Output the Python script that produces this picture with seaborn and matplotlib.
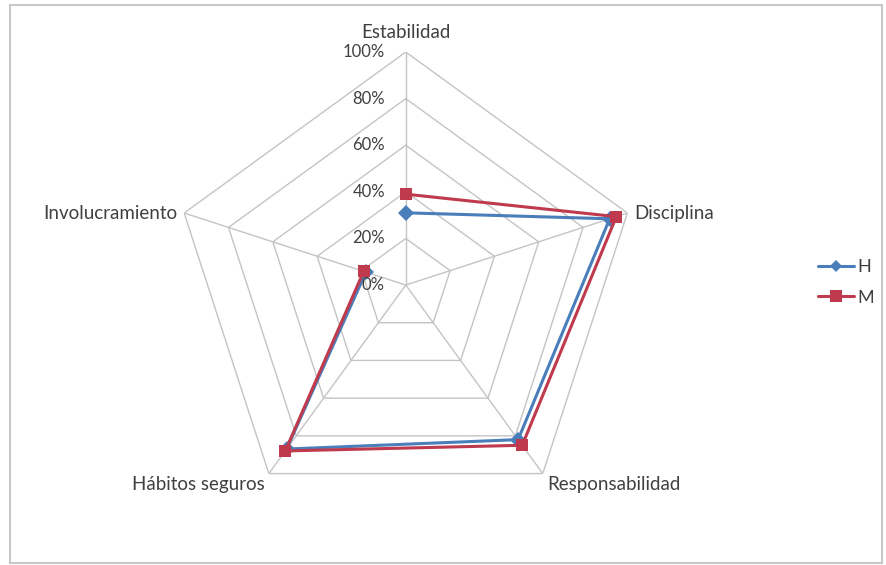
import numpy as np
import pandas as pd
import matplotlib
matplotlib.use("Agg")
import matplotlib.pyplot as plt
import seaborn as sns
from matplotlib.patches import Rectangle
from matplotlib.lines import Line2D

# Dimensions and scores per group
categories = ["Estabilidad", "Disciplina", "Responsabilidad", "Hábitos seguros", "Involucramiento"]
h_values = [0.31, 0.92, 0.82, 0.87, 0.18]
m_values = [0.39, 0.95, 0.85, 0.88, 0.19]
series_names = ["H", "M"]
tick_levels = [0.0, 0.2, 0.4, 0.6, 0.8, 1.0]
tick_labels = ["0%", "20%", "40%", "60%", "80%", "100%"]

sns.set_theme(style="white")
plt.rcParams["font.family"] = ["Lato", "DejaVu Sans"]

n = len(categories)
angles = np.linspace(0, 2 * np.pi, n, endpoint=False)

# Closed polygons in long format for seaborn
rows = []
for name, vals in zip(series_names, [h_values, m_values]):
    for i in list(range(n)) + [0]:
        rows.append({"theta": angles[i], "r": vals[i], "serie": name})
df = pd.DataFrame(rows)

fig = plt.figure(figsize=(8.86, 5.65), dpi=100)
fig.patch.set_facecolor("white")
ax = fig.add_axes([0.195, 0.083, 0.526, 0.825], projection="polar")
ax.set_theta_offset(np.pi / 2)
ax.set_theta_direction(-1)
ax.set_ylim(0, 1.0)
ax.grid(False)
ax.spines["polar"].set_visible(False)
ax.set_xticks([])
ax.set_yticks([])
ax.set_facecolor("none")

grid_color = "#c4c4c4"
# Pentagon grid rings
for lvl in tick_levels[1:]:
    ring_t = np.append(angles, angles[0])
    ring_r = np.full(n + 1, lvl)
    ax.plot(ring_t, ring_r, color=grid_color, lw=1.0, zorder=1)
# Spokes
for a in angles:
    ax.plot([a, a], [0, 1.0], color=grid_color, lw=1.0, zorder=1)

palette = {"H": "#4a7ebb", "M": "#be3a4c"}
sns.lineplot(data=df, x="theta", y="r", hue="serie", style="serie",
             markers={"H": "D", "M": "s"}, dashes=False, sort=False,
             palette=palette, lw=2.2, markersize=8, markeredgewidth=0,
             ax=ax, legend=False, zorder=3)

text_color = "#404040"
# Percentage labels along the top spoke
for lvl, lab in zip(tick_levels, tick_labels):
    ax.annotate(lab, xy=(0, lvl), xytext=(-15, 0), textcoords="offset points",
                ha="right", va="center", fontsize=12, color=text_color)

# Category labels around the outer ring
label_offsets = [
    ((0, 8), "center", "bottom"),
    ((5, 0), "left", "center"),
    ((3, -2), "left", "top"),
    ((-3, -2), "right", "top"),
    ((-5, 0), "right", "center"),
]
for a, cat, (off, ha, va) in zip(angles, categories, label_offsets):
    ax.annotate(cat, xy=(a, 1.0), xytext=off, textcoords="offset points",
                ha=ha, va=va, fontsize=13.5, color=text_color)

# Legend
handles = [
    Line2D([0], [0], color=palette["H"], lw=2.2, marker="D", markersize=6, markeredgewidth=0),
    Line2D([0], [0], color=palette["M"], lw=2.2, marker="s", markersize=8, markeredgewidth=0),
]
fig.legend(handles, series_names, loc="center left", bbox_to_anchor=(0.905, 0.5),
           frameon=False, fontsize=13, handlelength=2.0, handletextpad=0.2,
           labelspacing=0.8, labelcolor=text_color)

# Chart border
fig.patches.append(Rectangle((0.011, 0.004), 0.985, 0.988, transform=fig.transFigure,
                             fill=False, edgecolor="#c8c8c8", lw=1.5))

fig.savefig("out.png", dpi=100, facecolor="white")
